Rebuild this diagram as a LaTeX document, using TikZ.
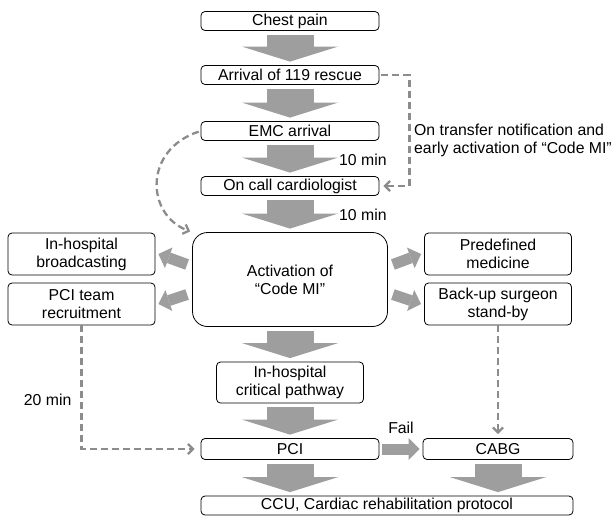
\documentclass[tikz,border=0pt]{standalone}
\usepackage{fontspec}
\setmainfont{Liberation Sans}
\usetikzlibrary{arrows.meta,calc}

\definecolor{flowgray}{RGB}{158,158,158}
\definecolor{dashgray}{RGB}{140,140,140}

\tikzset{
  box/.style={draw, line width=0.8pt, rounded corners=4pt, minimum width=178pt,
    minimum height=19pt, align=center},
  sidebox/.style={box, minimum width=147pt, minimum height=42pt},
  bigarrow/.style={draw=flowgray, line width=47pt,
    -{Triangle[width=96pt,length=15pt,line width=0pt]},
    shorten <=4pt, shorten >=3.5pt},
  smallarrow/.style={draw=flowgray, line width=11pt,
    -{Triangle[width=22pt,length=11pt,line width=0pt]}},
  dasharrow/.style={draw=dashgray, line width=2.3pt, dash pattern=on 7pt off 4pt,
    -{Straight Barb[length=5pt,width=10pt]}}
}

\begin{document}
\begin{tikzpicture}[x=1pt, y=-1pt, inner sep=0pt,
    font=\fontsize{15.8pt}{18pt}\selectfont]
  \useasboundingbox (0,0) rectangle (615,515);
  % main column
  \node[box] (chest) at (290,21) {Chest pain};
  \node[box] (rescue) at (290,75) {Arrival of 119 rescue};
  \node[box] (emc) at (290,131) {EMC arrival};
  \node[box] (oncall) at (290,186) {On call cardiologist};
  \node[box, rounded corners=15pt, minimum width=195pt, minimum height=94pt]
    (act) at (290,279.5) {Activation of\\“Code MI”};
  \node[box, minimum width=147pt, minimum height=41pt] (path) at (290,382.5)
    {In-hospital\\critical pathway};
  \node[box, minimum height=21pt] (pci) at (290,449) {PCI};
  \node[box, minimum width=150pt, minimum height=21pt] (cabg) at (498,449) {CABG};
  \node[box, minimum width=372pt] (ccu) at (387,505.5)
    {CCU, Cardiac rehabilitation protocol};
  % side boxes
  \node[sidebox] (bcast) at (81.5,254) {In-hospital\\broadcasting};
  \node[sidebox] (team) at (81.5,304) {PCI team\\recruitment};
  \node[sidebox] (medi) at (498,254) {Predefined\\medicine};
  \node[sidebox] (backup) at (498,304) {Back-up surgeon\\stand-by};
  % labels
  \node[anchor=west] (ten1) at (339,160) {10 min};
  \node[anchor=west] (ten2) at (339,215) {10 min};
  \node (fail) at (401,428) {Fail};
  \node[anchor=west, align=left] (note) at (414,140)
    {On transfer notification and\\early activation of “Code MI”};

  \draw[bigarrow] (chest) -- (rescue);
  \draw[bigarrow] (rescue) -- (emc);
  \draw[bigarrow] (emc) -- (oncall);
  \draw[bigarrow] (oncall) -- (act);
  \draw[bigarrow] (act) -- (path);
  \draw[bigarrow] (path) -- (pci);
  \draw[bigarrow] (pci) -- (pci |- ccu.north);
  \draw[bigarrow] (cabg) -- (cabg |- ccu.north);

  \draw[smallarrow] ($(act.west)+(-5,-15)$) -- ($(bcast.east)+(3,0)$);
  \draw[smallarrow] ($(act.west)+(-5,15)$) -- ($(team.east)+(3,0)$);
  \draw[smallarrow] ($(act.east)+(5,-15)$) -- ($(medi.west)+(-3,0)$);
  \draw[smallarrow] ($(act.east)+(5,15)$) -- ($(backup.west)+(-3,0)$);
  \draw[smallarrow, shorten <=3pt, shorten >=3pt] (pci) -- (cabg);

  \draw[dasharrow, shorten <=2pt, shorten >=4pt]
    (rescue.east) -- ++(30,0) |- (oncall.east);
  \draw[dasharrow, shorten <=2pt, shorten >=2pt]
    (emc.west) .. controls (143,150) and (146,215) .. (act.north west);
  \draw[dasharrow, shorten >=6pt]
    (team.south) |- node[pos=0.3, left=9pt] {20 min} (pci.west);
  \draw[dasharrow, shorten >=4pt] (backup) -- (cabg);
\end{tikzpicture}
\end{document}
